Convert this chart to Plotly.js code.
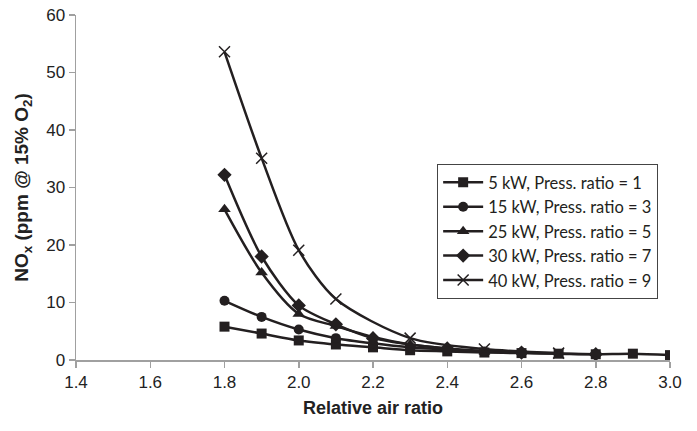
<!DOCTYPE html>
<html>
<head>
<meta charset="utf-8">
<script src="https://cdn.plot.ly/plotly-3.0.1.min.js"></script>
<style>html,body{margin:0;padding:0;background:#fff;}#chart{width:697px;height:431px;}</style>
</head>
<body>
<div id="chart"></div>
<script>
const seriesNames = ["5 kW, Press. ratio = 1", "15 kW, Press. ratio = 3", "25 kW, Press. ratio = 5", "30 kW, Press. ratio = 7", "40 kW, Press. ratio = 9"];
const symbols = ["square", "circle", "triangle-up", "diamond", "x-thin-open"];

const x5 = [1.8, 1.9, 2.0, 2.1, 2.2, 2.3, 2.4, 2.5, 2.6, 2.7, 2.8, 2.9, 3.0];
const y5 = [5.8, 4.6, 3.4, 2.7, 2.2, 1.7, 1.5, 1.3, 1.2, 1.1, 1.0, 1.1, 0.85];

const x15 = [1.8, 1.9, 2.0, 2.1, 2.2, 2.3, 2.4, 2.5, 2.6];
const y15 = [10.3, 7.5, 5.3, 3.8, 2.9, 2.2, 1.8, 1.5, 1.3];

const x25 = [1.8, 1.9, 2.0, 2.1, 2.2, 2.3, 2.4];
const y25 = [26.2, 15.2, 8.0, 5.9, 4.0, 2.7, 2.0];

const x30 = [1.8, 1.9, 2.0, 2.1, 2.2, 2.4, 2.6, 2.8];
const y30 = [32.2, 18.0, 9.5, 6.2, 3.8, 2.0, 1.3, 1.0];

const x40 = [1.8, 1.9, 2.0, 2.1, 2.3, 2.5, 2.7];
const y40 = [53.6, 35.1, 19.1, 10.6, 3.8, 1.9, 1.2];

const xs = [x5, x15, x25, x30, x40];
const ys = [y5, y15, y25, y30, y40];
const sizes = [10, 10, 11, 11, 11];

const ink = "#231f20";
const traces = xs.map((xv, i) => ({
  type: "scatter",
  mode: "lines+markers",
  name: seriesNames[i],
  x: xv,
  y: ys[i],
  line: {color: ink, width: 2.5, shape: "spline", smoothing: 0.8},
  marker: {symbol: symbols[i], size: sizes[i], color: ink, line: {color: ink, width: i === 4 ? 1.5 : 0}}
}));

const layout = {
  width: 697, height: 431,
  margin: {l: 76, r: 27, t: 15, b: 71},
  paper_bgcolor: "#fff", plot_bgcolor: "#fff",
  showlegend: true,
  legend: {
    x: 0.608, y: 0.568, xanchor: "left", yanchor: "top",
    bgcolor: "#fff", bordercolor: "#444", borderwidth: 1,
    font: {family: "Lato, 'Open Sans', sans-serif", size: 16.5, color: "#231f20"},
    itemwidth: 40, tracegroupgap: 0
  },
  xaxis: {
    range: [1.4, 3.0], dtick: 0.2, tick0: 1.4, tickformat: ".1f",
    showgrid: false, zeroline: false,
    showline: true, linecolor: "#a0a0a0", linewidth: 1.5,
    ticks: "outside", ticklen: 6, tickcolor: "#a0a0a0", tickwidth: 1.5,
    tickfont: {family: "'Liberation Sans', Arial, sans-serif", size: 17, color: "#222"},
    title: {text: "Relative air ratio", font: {family: "'Liberation Sans', Arial, sans-serif", size: 18, color: "#222", weight: "bold"}, standoff: 10}
  },
  yaxis: {
    range: [0, 60], dtick: 10,
    showgrid: false, zeroline: false,
    showline: true, linecolor: "#a0a0a0", linewidth: 1.5,
    ticks: "outside", ticklen: 6, tickcolor: "#a0a0a0", tickwidth: 1.5,
    tickfont: {family: "'Liberation Sans', Arial, sans-serif", size: 17, color: "#222"},
    title: {text: "<b>NO<sub>x</sub> (ppm @ 15% O<sub>2</sub>)</b>", font: {family: "'Liberation Sans', Arial, sans-serif", size: 19, color: "#222"}, standoff: 12}
  }
};

Plotly.newPlot("chart", traces, layout, {displayModeBar: false, staticPlot: true});
</script>
</body>
</html>
